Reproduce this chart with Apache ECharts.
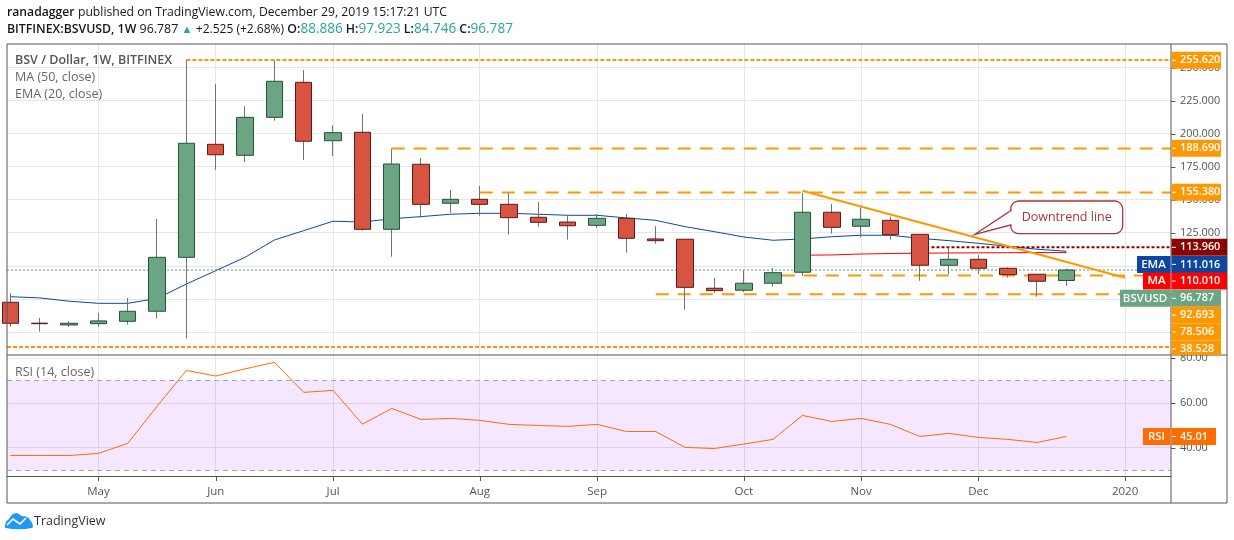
<!DOCTYPE html>
<html><head><meta charset="utf-8">
<style>html,body{margin:0;padding:0;background:#fff}#c{width:1234px;height:540px}</style>
<script src="https://cdn.jsdelivr.net/npm/echarts@6/dist/echarts.min.js"></script>
</head><body><div id="c"></div>
<script>
// ---- data ----
const weekIndex = [0,1,2,3,4,5,6,7,8,9,10,11,12,13,14,15,16,17,18,19,20,21,22,23,24,25,26,27,28,29,30,31,32,33,34,35,36];
const opens  = [72.4,56.6,55.2,56.2,58.0,65.6,106.4,191.9,183.6,212.3,238.8,194.6,201.0,127.6,176.8,147.3,150.3,146.5,136.7,133.1,130.6,135.9,120.3,120.1,83.0,81.5,86.8,95.1,140.5,129.9,134.4,123.8,100.4,104.9,98.1,93.6,88.886];
const closes = [56.5,56.2,56.5,58.3,65.6,106.4,192.7,184.0,212.3,239.6,194.2,200.7,127.6,177.0,146.5,150.3,146.5,136.4,132.9,130.3,135.9,120.8,119.0,83.7,81.2,86.8,94.8,140.5,129.1,135.2,123.5,100.4,104.9,98.1,93.3,88.3,96.787];
const lows   = [53.9,50.2,53.9,53.9,55.5,60.0,44.9,172.5,178.5,209.8,180.0,183.1,126.6,106.9,136.4,140.0,137.9,123.5,129.4,119.8,128.8,109.9,116.7,66.8,79.7,80.2,84.2,92.3,124.3,121.3,119.8,88.7,93.8,93.8,91.0,76.6,84.746];
const highs  = [79.2,60.5,58.0,64.3,75.7,135.4,255.62,237.5,220.9,255.62,248.1,206.3,214.8,188.69,181.6,157.3,160.4,155.38,148.3,138.2,139.2,139.2,130.1,120.1,90.8,96.6,98.3,155.38,146.8,144.0,137.2,123.8,114.0,108.2,98.9,93.6,97.923];
const emaValues = [76.6,75.7,73.2,71.6,71.6,75.3,86.2,96.3,106.4,119.5,126.6,133.7,133.1,135.6,137.2,139.0,139.7,139.7,139.0,138.2,138.2,136.2,134.4,129.6,125.8,121.8,119.3,120.3,122.0,123.1,123.1,120.8,119.0,117.0,114.8,112.5,111.016];
const maStartIndex = 27;
const maValues = [108.0,108.2,108.9,109.3,109.5,109.7,109.8,109.9,110.0,110.01];
const rsiValues = [36.5,36.5,36.5,37.4,41.9,58.5,74.5,72.0,75.2,78.1,64.7,65.6,50.5,57.5,52.6,53.05,52.2,50.4,49.9,49.5,50.4,47.2,47.2,40.1,39.6,41.6,43.7,54.4,51.7,53.05,50.4,45.0,46.35,44.56,43.7,42.3,45.01];
const monthTickIndex = [3,7,11,16,20,25,29,33,38];
const monthTickLabels = ['May','Jun','Jul','Aug','Sep','Oct','Nov','Dec','2020'];
const priceTicks = [50,75,100,125,150,175,200,225,250];
const rsiTicks = [40,60,80];
const levelPrices = [255.62,188.69,155.38,92.693,78.506];
const levelStartIndex = [6,13,16,26.3,22];
const bottomLevel = 38.528;
const resistanceLevel = 113.96;
const resistanceStartIndex = 31.4;
const trendIndex = [27,38];
const trendPrices = [156.8,91.0];
const lastPrice = 96.787;
const rsiBand = [30,70];
const priceTagTexts = ['255.620','188.690','155.380','113.960','111.016','110.010','96.787','92.693','78.506','38.528'];
const rsiTagText = '45.01';

// ---- layout and styles ----
const L=7, T=44, W=1164, H1=311, H2=121.5;
const XMIN=-0.1159, XMAX=39.565;
const UP='#6ba583', UPB='#225437', DN='#d75442', DNB='#5b1a13', WICK='#737375';
const ORANGE='#ff9800', GRID='#e6e6e6', FRAME='#555555', TXT='#555555';
const FONT='"Open Sans", sans-serif';

const wickRows = weekIndex.map((x,i)=>[x,opens[i],closes[i],lows[i],highs[i]]);
const bodyRows = weekIndex.map((x,i)=>[x,opens[i],closes[i],Math.min(opens[i],closes[i]),Math.max(opens[i],closes[i])]);
const maRows = maValues.map((v,i)=>[maStartIndex+i,v]);

function levelSeries(name,x0,price,color,dash,width){
  return {name,type:'line',xAxisIndex:0,yAxisIndex:0,data:[[x0,price],[XMAX,price]],symbol:'none',silent:true,z:3,
    lineStyle:{color,width,type:dash,cap:'butt'}};
}
const levels = levelPrices.map((p,i)=>levelSeries('L'+i,levelStartIndex[i],p,ORANGE,i===0?[4,2]:[13,9],2));

const tagCentres=[60.3,148.3,192.3,247.3,264.4,281,298.3,315,332,349];
const tagColors=[ORANGE,ORANGE,ORANGE,'#8b0000','#0d47a1','#ff0000',UP,ORANGE,ORANGE,ORANGE];
const tagRight=[1221,1221,1221,1227,1227,1227,1221,1221,1221,1221];
const sideTags={4:['EMA',1137],5:['MA',1143],6:['BSVUSD',1120]};
const tagGraphics=[];
function addTag(text,cy,color,right,side,sideX){
  const top=cy-8.5, h=Math.min(17,355-top>0&&cy<355?355-top:17);
  tagGraphics.push({type:'rect',z:20,shape:{x:1171.5,y:top,width:right-1171.5,height:h},style:{fill:color}});
  tagGraphics.push({type:'line',z:21,shape:{x1:1172,y1:cy,x2:1176,y2:cy},style:{stroke:'#fff',lineWidth:1}});
  tagGraphics.push({type:'text',z:21,x:1180,y:cy,style:{text,fill:'#fff',font:'600 10.9px '+FONT,verticalAlign:'middle'}});
  if(side){
    tagGraphics.push({type:'rect',z:20,shape:{x:sideX,y:top,width:1170.5-sideX,height:h},style:{fill:color}});
    tagGraphics.push({type:'text',z:21,x:(sideX+1170)/2,y:cy,style:{text:side,fill:'#fff',font:'600 11.5px '+FONT,align:'center',verticalAlign:'middle'}});
  }
}
priceTagTexts.forEach((t,i)=>{const s=sideTags[i];addTag(t,tagCentres[i],tagColors[i],tagRight[i],s&&s[0],s&&s[1]);});
addTag(rsiTagText,436.5,'#ff6d00',1216,'RSI',1143);

const callout=[
  {type:'rect',z:12,shape:{x:1010.7,y:201,width:112,height:32.7,r:8},style:{fill:'#fff',stroke:'#a5373d',lineWidth:1.3}},
  {type:'polygon',z:13,shape:{points:[[975,234.3],[1010.7,210.7],[1010.7,225]]},style:{fill:'#fff',stroke:'#a5373d',lineWidth:1.3}},
  {type:'rect',z:14,shape:{x:1009.7,y:211.6,width:3,height:12.6},style:{fill:'#fff'}},
  {type:'text',z:15,x:1066.7,y:217,style:{text:'Downtrend line',fill:'#a5373d',font:'12.5px '+FONT,align:'center',verticalAlign:'middle'}}
];

const rich1={
  b:{fontFamily:FONT,fontSize:12.2,fontWeight:600,fill:'#131722'},
  n:{fontFamily:FONT,fontSize:12.2,fill:'#131722'}
};
const rich2={
  b:{fontFamily:FONT,fontSize:12.3,fontWeight:600,fill:'#131722'},
  n:{fontFamily:FONT,fontSize:12.4,fill:'#131722'},
  p:{fontFamily:FONT,fontSize:12,fill:'#131722'},
  u:{fontFamily:FONT,fontSize:11,fill:'#26a69a'},
  t:{fontFamily:FONT,fontSize:13.6,fill:'#26a69a',padding:[0,3,0,0]}
};
const cloud=[[6,528],[6,522],[9,519],[13,514],[18,513.5],[22,516],[27,517],[32,523],[32,528]];
const staticGraphics=[
  {type:'text',z:30,x:7,y:12.5,style:{text:'{b|ranadagger} {n|published on TradingView.com, December 29, 2019 15:17:21 UTC}',rich:rich1,verticalAlign:'middle'}},
  {type:'text',z:30,x:7,y:29.5,style:{text:'{b|BITFINEX:BSVUSD, 1W} {n|96.787} {u|▲} {p|+2.525 (+2.68%)} {b|O:}{t|88.886}{b|H:}{t|97.923}{b|L:}{t|84.746}{b|C:}{t|96.787}',rich:rich2,verticalAlign:'middle'}},
  {type:'text',z:30,x:15,y:60.5,style:{text:'BSV / Dollar, 1W, BITFINEX',fill:TXT,font:'600 12.5px '+FONT,verticalAlign:'middle'}},
  {type:'text',z:30,x:15,y:77.5,style:{text:'MA (50, close)',fill:'#666',font:'12.5px '+FONT,verticalAlign:'middle'}},
  {type:'text',z:30,x:15,y:94.5,style:{text:'EMA (20, close)',fill:'#666',font:'12.5px '+FONT,verticalAlign:'middle'}},
  {type:'text',z:30,x:15,y:372.5,style:{text:'RSI (14, close)',fill:'#666',font:'12.5px '+FONT,verticalAlign:'middle'}},
  {type:'text',z:30,x:34,y:521.5,style:{text:'TradingView',fill:'#333',font:'12.5px '+FONT,verticalAlign:'middle'}},
  {type:'polygon',z:30,shape:{points:cloud,smooth:0.4},style:{fill:'#2196f3'}},
  {type:'polyline',z:31,shape:{points:[[7,525],[13,519],[20,524],[26,518]]},style:{stroke:'#fff',lineWidth:1.6,fill:null}},
  {type:'rect',z:9,shape:{x:L,y:T,width:1220,height:459},style:{fill:'none',stroke:FRAME,lineWidth:1}},
  {type:'line',z:9,shape:{x1:1171,y1:T,x2:1171,y2:503},style:{stroke:FRAME,lineWidth:1}},
  {type:'line',z:9,shape:{x1:L,y1:355,x2:1227,y2:355},style:{stroke:FRAME,lineWidth:1}},
  {type:'line',z:9,shape:{x1:L,y1:476.5,x2:1171,y2:476.5},style:{stroke:FRAME,lineWidth:1}}
];

const xBase={type:'value',min:XMIN,max:XMAX,
  splitLine:{show:true,lineStyle:{color:GRID,width:1}},
  axisLine:{show:false}};
const tf2=v=>v.toFixed(2), tf3=v=>v.toFixed(3);

const option={
  animation:false,
  backgroundColor:'#fff',
  grid:[{left:L,top:T,width:W,height:H1,show:false},{left:L,top:T+H1,width:W,height:H2,show:false}],
  xAxis:[
    Object.assign({},xBase,{gridIndex:0,axisTick:{show:false,customValues:monthTickIndex},axisLabel:{show:false,customValues:monthTickIndex}}),
    Object.assign({},xBase,{gridIndex:1,
      axisTick:{show:false,customValues:monthTickIndex},
      axisLabel:{show:true,margin:9,color:TXT,fontFamily:FONT,fontSize:11.5,customValues:monthTickIndex,
        formatter:v=>monthTickLabels[monthTickIndex.indexOf(v)]}})
  ],
  yAxis:[
    {type:'value',gridIndex:0,position:'right',min:32.5,max:267.8,
      splitLine:{show:true,lineStyle:{color:GRID,width:1}},axisLine:{show:false},
      axisTick:{show:false,customValues:priceTicks},
      axisLabel:{show:true,margin:9,color:TXT,fontFamily:FONT,fontSize:10.9,customValues:priceTicks,formatter:tf3}},
    {type:'value',gridIndex:1,position:'right',min:27.1,max:81.4,
      splitLine:{show:true,lineStyle:{color:GRID,width:1}},axisLine:{show:false},
      axisTick:{show:false,customValues:rsiTicks},
      axisLabel:{show:true,margin:9,color:TXT,fontFamily:FONT,fontSize:10.9,customValues:rsiTicks,formatter:tf2}}
  ],
  series:[
    {name:'last',type:'line',xAxisIndex:0,yAxisIndex:0,data:[[XMIN,lastPrice],[XMAX,lastPrice]],symbol:'none',silent:true,z:2,
      lineStyle:{color:'#4f9e76',width:1,type:[2,2]}},
    {name:'EMA',type:'line',xAxisIndex:0,yAxisIndex:0,data:weekIndex.map((x,i)=>[x,emaValues[i]]),symbol:'none',z:2,
      lineStyle:{color:'#0d47a1',width:1}},
    {name:'MA',type:'line',xAxisIndex:0,yAxisIndex:0,data:maRows,symbol:'none',z:2,
      lineStyle:{color:'#ff0000',width:1}},
    ...levels,
    levelSeries('bottom',XMIN,bottomLevel,ORANGE,[4,2],2),
    levelSeries('res',resistanceStartIndex,resistanceLevel,'#8b0000',[3,2],2),
    {name:'wick',type:'candlestick',xAxisIndex:0,yAxisIndex:0,data:wickRows,encode:{x:0,y:[1,2,3,4]},barWidth:1,z:4,
      itemStyle:{color:WICK,color0:WICK,borderColor:WICK,borderColor0:WICK,borderColorDoji:WICK,borderWidth:1}},
    {name:'BSVUSD',type:'candlestick',xAxisIndex:0,yAxisIndex:0,data:bodyRows,encode:{x:0,y:[1,2,3,4]},barWidth:17,z:5,
      itemStyle:{color:UP,color0:DN,borderColor:UPB,borderColor0:DNB,borderColorDoji:DNB,borderWidth:1}},
    {name:'Downtrend',type:'line',xAxisIndex:0,yAxisIndex:0,data:trendIndex.map((x,i)=>[x,trendPrices[i]]),symbol:'none',z:6,silent:true,
      lineStyle:{color:ORANGE,width:2}},
    {name:'RSI',type:'line',xAxisIndex:1,yAxisIndex:1,data:weekIndex.map((x,i)=>[x,rsiValues[i]]),symbol:'none',z:5,
      lineStyle:{color:'#ff6d00',width:1},
      markArea:{silent:true,itemStyle:{color:'rgba(153,21,255,0.1)'},data:[[{xAxis:XMIN,yAxis:rsiBand[0]},{xAxis:XMAX,yAxis:rsiBand[1]}]]},
      markLine:{silent:true,symbol:'none',label:{show:false},lineStyle:{color:'#aaa3b3',type:[5,4],width:1},data:rsiBand.map(v=>({yAxis:v}))}}
  ]
};
const chart=echarts.init(document.getElementById('c'),null,{renderer:'canvas'});
chart.setOption(option);
// axis tick marks placed through the axes' own scales
const tickStyle={stroke:FRAME,lineWidth:1};
const tickGraphics=[
  ...priceTicks.map(v=>{const y=Math.round(chart.convertToPixel({yAxisIndex:0},v))+0.5;return {type:'line',z:9,shape:{x1:1171,y1:y,x2:1175.5,y2:y},style:tickStyle};}),
  ...rsiTicks.map(v=>{const y=Math.round(chart.convertToPixel({yAxisIndex:1},v))+0.5;return {type:'line',z:9,shape:{x1:1171,y1:y,x2:1175.5,y2:y},style:tickStyle};}),
  ...monthTickIndex.map(v=>{const x=Math.round(chart.convertToPixel({xAxisIndex:1},v))+0.5;return {type:'line',z:9,shape:{x1:x,y1:476.5,x2:x,y2:481},style:tickStyle};})
];
chart.setOption({graphic:{elements:[...tickGraphics,...staticGraphics,...callout,...tagGraphics]}});
</script></body></html>
